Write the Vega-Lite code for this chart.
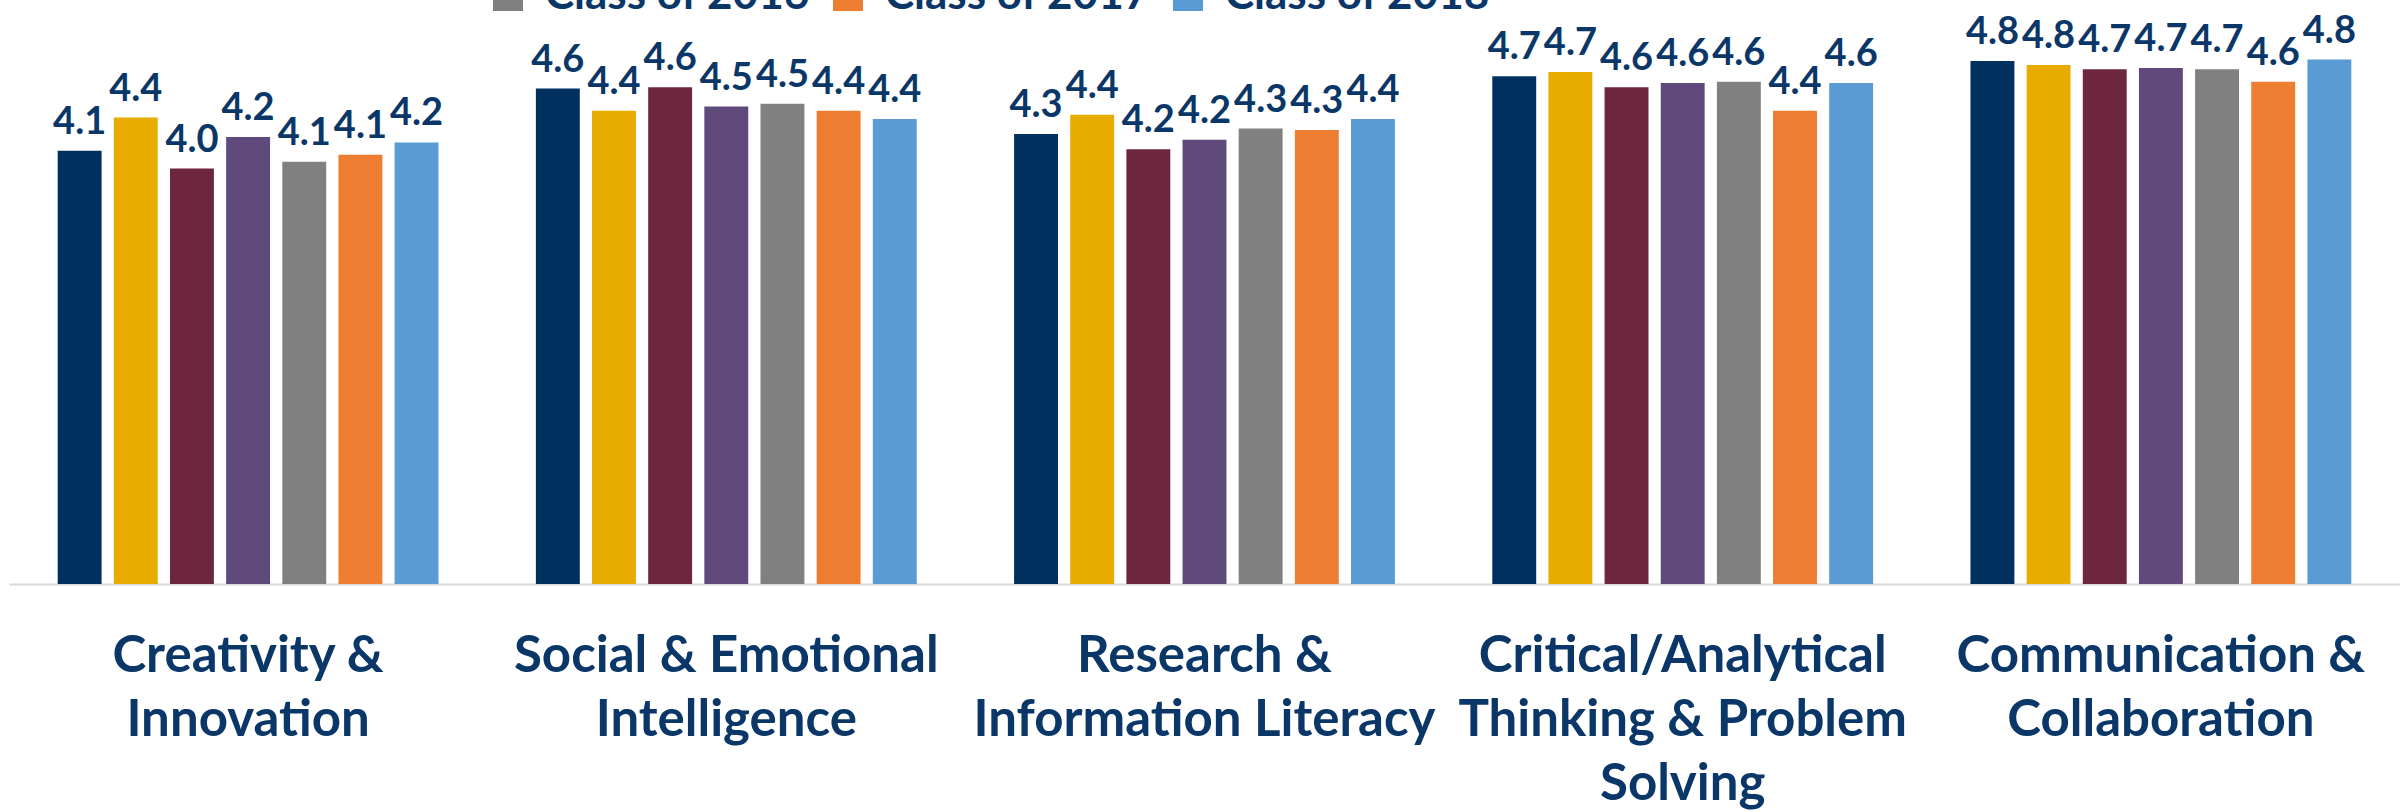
{
  "$schema": "https://vega.github.io/schema/vega-lite/v6.json",
  "autosize": {"type": "none"},
  "padding": {"left": 9, "top": 32, "right": 0, "bottom": 228},
  "width": 2391,
  "height": 552,
  "background": "white",
  "config": {
    "view": {"stroke": null},
    "font": "Lato"
  },
  "data": {
    "values": [
      {"skill": "Creativity &|Innovation", "cls": "Class of 2012", "value": 4.14},
      {"skill": "Creativity &|Innovation", "cls": "Class of 2013", "value": 4.38},
      {"skill": "Creativity &|Innovation", "cls": "Class of 2014", "value": 4.01},
      {"skill": "Creativity &|Innovation", "cls": "Class of 2015", "value": 4.24},
      {"skill": "Creativity &|Innovation", "cls": "Class of 2016", "value": 4.06},
      {"skill": "Creativity &|Innovation", "cls": "Class of 2017", "value": 4.11},
      {"skill": "Creativity &|Innovation", "cls": "Class of 2018", "value": 4.2},
      {"skill": "Social & Emotional|Intelligence", "cls": "Class of 2012", "value": 4.59},
      {"skill": "Social & Emotional|Intelligence", "cls": "Class of 2013", "value": 4.43},
      {"skill": "Social & Emotional|Intelligence", "cls": "Class of 2014", "value": 4.6},
      {"skill": "Social & Emotional|Intelligence", "cls": "Class of 2015", "value": 4.46},
      {"skill": "Social & Emotional|Intelligence", "cls": "Class of 2016", "value": 4.48},
      {"skill": "Social & Emotional|Intelligence", "cls": "Class of 2017", "value": 4.43},
      {"skill": "Social & Emotional|Intelligence", "cls": "Class of 2018", "value": 4.37},
      {"skill": "Research &|Information Literacy", "cls": "Class of 2012", "value": 4.26},
      {"skill": "Research &|Information Literacy", "cls": "Class of 2013", "value": 4.4},
      {"skill": "Research &|Information Literacy", "cls": "Class of 2014", "value": 4.15},
      {"skill": "Research &|Information Literacy", "cls": "Class of 2015", "value": 4.22},
      {"skill": "Research &|Information Literacy", "cls": "Class of 2016", "value": 4.3},
      {"skill": "Research &|Information Literacy", "cls": "Class of 2017", "value": 4.29},
      {"skill": "Research &|Information Literacy", "cls": "Class of 2018", "value": 4.37},
      {"skill": "Critical/Analytical|Thinking & Problem|Solving", "cls": "Class of 2012", "value": 4.68},
      {"skill": "Critical/Analytical|Thinking & Problem|Solving", "cls": "Class of 2013", "value": 4.71},
      {"skill": "Critical/Analytical|Thinking & Problem|Solving", "cls": "Class of 2014", "value": 4.6},
      {"skill": "Critical/Analytical|Thinking & Problem|Solving", "cls": "Class of 2015", "value": 4.63},
      {"skill": "Critical/Analytical|Thinking & Problem|Solving", "cls": "Class of 2016", "value": 4.64},
      {"skill": "Critical/Analytical|Thinking & Problem|Solving", "cls": "Class of 2017", "value": 4.43},
      {"skill": "Critical/Analytical|Thinking & Problem|Solving", "cls": "Class of 2018", "value": 4.63},
      {"skill": "Communication &|Collaboration", "cls": "Class of 2012", "value": 4.79},
      {"skill": "Communication &|Collaboration", "cls": "Class of 2013", "value": 4.76},
      {"skill": "Communication &|Collaboration", "cls": "Class of 2014", "value": 4.73},
      {"skill": "Communication &|Collaboration", "cls": "Class of 2015", "value": 4.74},
      {"skill": "Communication &|Collaboration", "cls": "Class of 2016", "value": 4.73},
      {"skill": "Communication &|Collaboration", "cls": "Class of 2017", "value": 4.64},
      {"skill": "Communication &|Collaboration", "cls": "Class of 2018", "value": 4.8}
    ]
  },
  "encoding": {
    "x": {
      "field": "skill",
      "type": "nominal",
      "sort": null,
      "scale": {"paddingInner": 0.178, "paddingOuter": 0.089},
      "axis": {
        "title": null,
        "ticks": false,
        "domainColor": "#d9d9d9",
        "domainWidth": 2,
        "labelAngle": 0,
        "labelFont": "Lato",
        "labelFontSize": 51,
        "labelFontWeight": "bold",
        "labelColor": "#0B3768",
        "labelPadding": 47,
        "labelLineHeight": 64,
        "labelBaseline": "top",
        "labelLimit": 1000,
        "labelOverlap": false,
        "labelBound": false,
        "labelExpr": "split(datum.label, '|')"
      }
    },
    "xOffset": {
      "field": "cls",
      "type": "nominal",
      "scale": {"paddingInner": 0.218, "paddingOuter": 0.109}
    },
    "y": {
      "field": "value",
      "type": "quantitative",
      "scale": {"domain": [1, 5], "zero": false, "nice": false},
      "axis": null
    }
  },
  "layer": [
    {
      "mark": {"type": "bar"},
      "encoding": {
        "y2": {"datum": 1},
        "color": {
          "field": "cls",
          "type": "nominal",
          "scale": {
            "domain": ["Class of 2012", "Class of 2013", "Class of 2014", "Class of 2015", "Class of 2016", "Class of 2017", "Class of 2018"],
            "range": ["#00305E", "#E8AB00", "#6C263D", "#5F4A7B", "#808080", "#ED7D31", "#5B9BD5"]
          },
          "legend": {
            "title": null,
            "orient": "none",
            "legendX": 477,
            "legendY": -112,
            "direction": "horizontal",
            "columns": 4,
            "padding": 0,
            "symbolType": "square",
            "symbolSize": 900,
            "symbolStrokeWidth": 0,
            "labelFont": "Lato",
            "labelFontSize": 44,
            "labelFontWeight": "bold",
            "labelColor": "#0B3768",
            "labelOffset": 15,
            "labelLimit": 1000,
            "columnPadding": 15,
            "rowPadding": 10
          }
        }
      }
    },
    {
      "mark": {
        "type": "text",
        "font": "Lato",
        "fontSize": 38,
        "fontWeight": "bold",
        "color": "#0B3768",
        "baseline": "alphabetic",
        "align": "center",
        "dy": -17
      },
      "encoding": {
        "text": {"field": "value", "type": "quantitative", "format": ".1f"}
      }
    }
  ]
}
